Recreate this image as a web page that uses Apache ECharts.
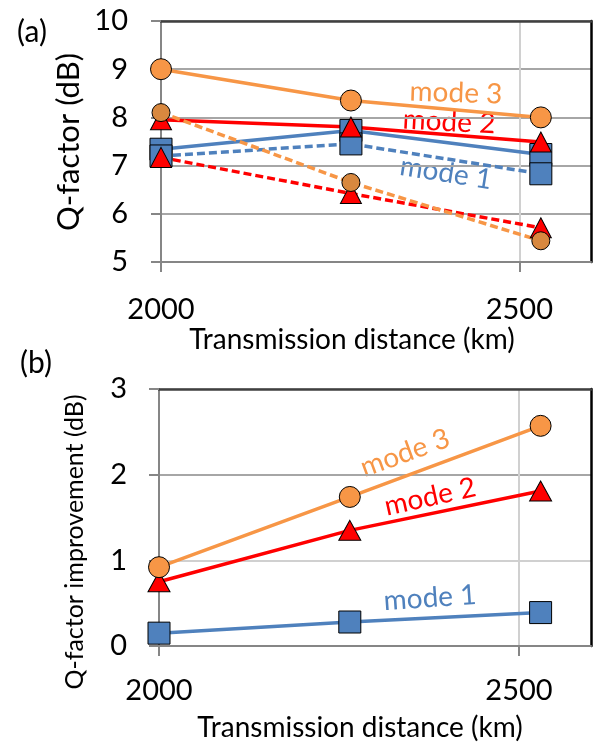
<!DOCTYPE html>
<html>
<head>
<meta charset="utf-8">
<script src="https://cdn.jsdelivr.net/npm/echarts@6/dist/echarts.min.js"></script>
<style>
  html, body { margin: 0; padding: 0; background: #fff; overflow: hidden; }
  #c1 { width: 597px; height: 744px; }
</style>
</head>
<body>
<div id="c1"></div>
<script>
// transmission distance (km)
const distance = [2000, 2265, 2530]
const xTickLabels = [2000, 2500]

// (a) Q-factor (dB), solid / dashed curves
const mode1Solid = [7.34, 7.73, 7.23]
const mode1Dashed = [7.2, 7.45, 6.83]
const mode2Solid = [7.95, 7.8, 7.49]
const mode2Dashed = [7.17, 6.42, 5.71]
const mode3Solid = [9.0, 8.35, 8.0]
const mode3Dashed = [8.1, 6.65, 5.44]

// (b) Q-factor improvement (dB)
const gain1 = [0.15, 0.28, 0.39]
const gain2 = [0.75, 1.35, 1.81]
const gain3 = [0.92, 1.74, 2.57]
const yTicksB = [0, 1, 2, 3]

const FONT = 'Lato'
const BLUE = '#4F81BD'
const RED = '#FF0000'
const ORANGE = '#F79646'
const DARK_ORANGE = '#D8883F'
const AXIS = '#868686'

const pair = (ys) => distance.map((x, i) => [x, ys[i]])

function lineSeries(idx, data, color, dashed, symbol, size, fill) {
  return {
    type: 'line',
    xAxisIndex: idx,
    yAxisIndex: idx,
    data: pair(data),
    symbol: symbol,
    symbolSize: size,
    showAllSymbol: true,
    lineStyle: { color: color, width: 3.5, type: dashed ? [8, 4] : 'solid' },
    itemStyle: { color: fill || color, borderColor: '#000', borderWidth: 1 },
    emphasis: { disabled: true }
  }
}

function xAxisFor(gridIndex, margin) {
  return {
    type: 'value',
    gridIndex: gridIndex,
    min: 2000,
    max: 2600,
    interval: 100,
    axisLine: { show: true, onZero: false, lineStyle: { color: AXIS, width: 2 } },
    axisTick: { show: true, customValues: xTickLabels, length: 10, lineStyle: { color: AXIS, width: 2 } },
    axisLabel: {
      customValues: xTickLabels,
      formatter: (v) => String(v),
      fontFamily: FONT, fontSize: 29, color: '#000', margin: margin
    },
    splitLine: { show: true, lineStyle: { width: 2, color: '#D0D0D0' } }
  }
}

// plain frame lines on the top and right side of a plot area
function frameAxis(gridIndex, position, color) {
  return {
    type: 'value',
    gridIndex: gridIndex,
    position: position,
    min: 0,
    max: 1,
    axisLine: { show: true, onZero: false, lineStyle: { color: color, width: 2.5 } },
    axisTick: { show: false },
    axisLabel: { show: false },
    splitLine: { show: false }
  }
}

const label = (text, x, y, size, color, deg) => ({
  type: 'text',
  x: x,
  y: y,
  rotation: (deg || 0) * Math.PI / 180,
  style: { text: text, fontFamily: FONT, fontSize: size, fill: color, align: 'center', verticalAlign: 'middle' }
})

const myChart = echarts.init(document.getElementById('c1'))
const option = {
  animation: false,
  grid: [
    { left: 161, top: 21, width: 430, height: 241 },
    { left: 159, top: 389, width: 432, height: 257 }
  ],
  xAxis: [
    xAxisFor(0, 33),
    xAxisFor(1, 30),
    frameAxis(0, 'top', '#404040'),
    frameAxis(1, 'top', '#404040')
  ],
  yAxis: [
    {
      type: 'value',
      gridIndex: 0,
      min: 5,
      max: 10,
      interval: 1,
      axisLine: { show: true, lineStyle: { color: AXIS, width: 2 } },
      axisTick: { show: true, length: 10, lineStyle: { color: AXIS, width: 2 } },
      axisLabel: { fontFamily: FONT, fontSize: 29, color: '#000', margin: 33 },
      splitLine: { show: true, lineStyle: { width: 2, color: '#A6A6A6' } }
    },
    {
      type: 'value',
      gridIndex: 1,
      min: 0,
      max: 3,
      interval: 0.5,
      axisLine: { show: true, lineStyle: { color: AXIS, width: 2 } },
      axisTick: { show: true, customValues: yTicksB, length: 10, lineStyle: { color: AXIS, width: 2 } },
      axisLabel: { customValues: yTicksB, fontFamily: FONT, fontSize: 29, color: '#000', margin: 32 },
      splitLine: { show: true, lineStyle: { width: 2, color: ['#A6A6A6', '#D0D0D0'] } }
    },
    frameAxis(0, 'right', '#000'),
    frameAxis(1, 'right', '#000')
  ],
  series: [
    lineSeries(0, mode1Solid, BLUE, false, 'rect', 22),
    lineSeries(0, mode1Dashed, BLUE, true, 'rect', 22),
    lineSeries(0, mode2Solid, RED, false, 'triangle', [21, 20]),
    lineSeries(0, mode2Dashed, RED, true, 'triangle', [21, 20]),
    lineSeries(0, mode3Solid, ORANGE, false, 'circle', 21),
    lineSeries(0, mode3Dashed, ORANGE, true, 'circle', 18, DARK_ORANGE),
    lineSeries(1, gain1, BLUE, false, 'rect', 22),
    lineSeries(1, gain2, RED, false, 'triangle', [22, 20]),
    lineSeries(1, gain3, ORANGE, false, 'circle', 21)
  ],
  graphic: [
    label('(a)', 32, 32, 30, '#000'),
    label('(b)', 36, 363, 30, '#000'),
    label('Q-factor (dB)', 69, 142, 31, '#000', 90),
    label('Q-factor improvement (dB)', 75, 542, 25, '#000', 90),
    label('Transmission distance (km)', 352, 340, 28, '#000'),
    label('Transmission distance (km)', 360, 728, 28, '#000'),
    label('mode 3', 456, 93, 28, ORANGE, -2),
    label('mode 2', 449, 122, 28, RED, -3),
    label('mode 1', 446, 173, 28, BLUE, -9),
    label('mode 3', 405, 453, 28, ORANGE, 20),
    label('mode 2', 430, 497, 28, RED, 12.5),
    label('mode 1', 430, 598, 28, BLUE, 4)
  ]
}
myChart.setOption(option)
</script>
</body>
</html>
